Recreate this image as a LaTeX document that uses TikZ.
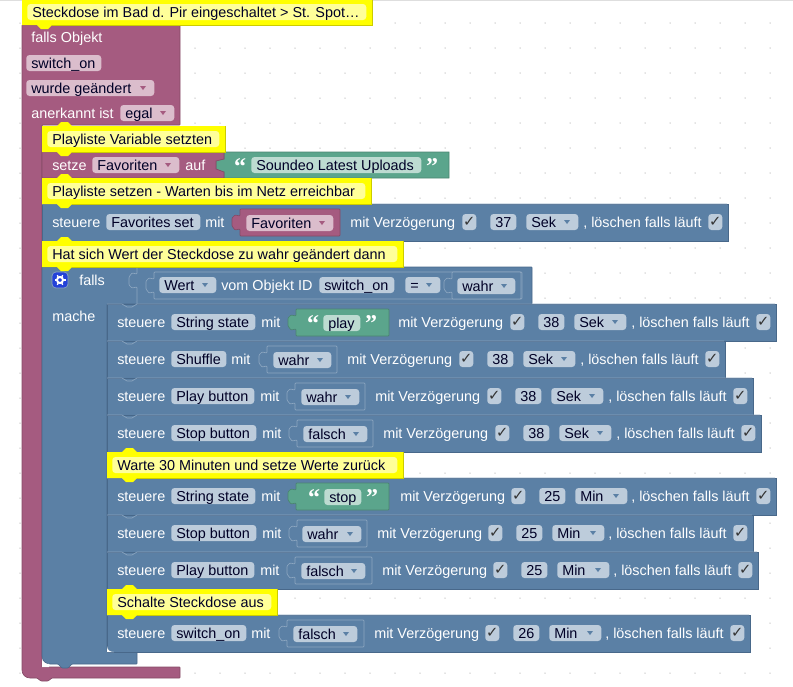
\documentclass[tikz,border=0pt]{standalone}
\usepackage{fontspec}
\setmainfont{Liberation Sans}
\newfontfamily\quotefont{Liberation Serif}
\newfontfamily\checkfont{DejaVu Sans}
\definecolor{blockblue}{HTML}{5B80A5}
\definecolor{blockred}{HTML}{A55B80}
\definecolor{blockgreen}{HTML}{5BA58C}
\definecolor{edgeblue}{HTML}{48688A}
\definecolor{edgered}{HTML}{844A66}
\definecolor{edgegreen}{HTML}{4A8570}
\definecolor{hiblue}{HTML}{8CA6C0}
\definecolor{tintblue}{HTML}{BDCCDB}
\definecolor{tintred}{HTML}{DBBDCC}
\definecolor{tintgreen}{HTML}{BDDBD1}
\definecolor{notegold}{HTML}{FFFF00}
\definecolor{notepale}{HTML}{FFFF99}
\definecolor{notedark}{HTML}{CCCC00}
\definecolor{gearblue}{HTML}{2342D8}
\tikzset{
  lbl/.style={anchor=west,inner xsep=0pt,inner ysep=.75pt,text height=9pt,text depth=1.5pt,font=\fontsize{10.8}{12}\selectfont,text=white},
  fld/.style={lbl,text=black!85!blue,inner xsep=3.75pt,rounded corners=2.4pt},
  chkbox/.style={anchor=west,inner sep=0pt,minimum width=10.5pt,minimum height=12pt,rounded corners=2.4pt,text=black!80,font=\checkfont\fontsize{11}{12}\selectfont},
  qmark/.style={anchor=base,inner sep=0pt,text=white,font=\quotefont\bfseries\fontsize{18}{18}\selectfont},
  hiline/.style={draw=hiblue,line width=.5pt}
}
\newcommand{\rowgap}{0}
% field with text, from x1 to x2
\newcommand{\fldbox}[6]{%
  \pgfmathsetmacro\fldw{((#3)-(#2)-10)*0.75}
  \node[fld,fill=#5] (#1) at ({#2},{#4}) {\makebox[\fldw pt][l]{#6}};}
% same, with the little arrow of a dropdown
\newcommand{\dropbox}[7]{%
  \fldbox{#1}{#2}{#3}{#4}{#5}{#6}
  \fill[#7] ({#3-14},{#4-2}) -- ++(6,0) -- ++(-3,4) -- cycle;}
% value block with its tab on the left
\newcommand{\valblock}[5]{%
  \draw[fill=#4,draw=#5,line width=.5pt,rounded corners=.6pt] (#1,{#3+14}) -- (#2,{#3+14}) -- (#2,{#3-13}) -- (#1,{#3-13})
    -- (#1,{#3-6}) -- ({#1-5},{#3-7}) -- ({#1-8},{#3-4}) -- ({#1-8},{#3+4}) -- ({#1-5},{#3+8}) -- (#1,{#3+7}) -- cycle;}
\newcommand{\strval}[7]{%
  \valblock{#2}{#3}{#4}{blockgreen}{edgegreen}
  \fldbox{#1}{#5}{#6}{#4+1}{tintgreen}{#7}
  \node[qmark] (#1o) at ({#5-10},{#4+9}) {“};
  \node[qmark] (#1c) at ({#6+11},{#4+9}) {”};}
% one "steuere" row: name, left, y, object, field end, mit, mit Verz., delay, unit
\newcommand{\ctrlrow}[9]{%
  \draw[fill=blockblue,draw=edgeblue,line width=.5pt] (#2,{#3-18}) rectangle ({#7+378-\rowgap},{#3+19});
  \draw[hiline] (#2,{#3-18}) -- ({#2+15},{#3-18}) -- ({#2+20},{#3-15}) -- ({#2+25},{#3-15}) -- ({#2+30},{#3-18}) -- ({#7+377-\rowgap},{#3-18});
  \node[lbl] (#1a) at ({#2+10},#3) {steuere};
  \fldbox{#1b}{#2+64}{#5}{#3}{tintblue}{#4}
  \node[lbl] (#1c) at (#6,#3) {mit};
  \node[lbl] (#1d) at ({#7+\rowgap},#3) {mit Verzögerung};
  \node[chkbox,fill=tintblue] (#1e) at ({#7+112},#3) {✓};
  \fldbox{#1f}{#7+140}{#7+166}{#3}{tintblue}{#8}
  \dropbox{#1g}{#7+176}{#7+228}{#3}{tintblue}{#9}{blockblue}
  \node[lbl] (#1h) at ({#7+233-\rowgap},#3) {, löschen falls läuft};
  \node[chkbox,fill=tintblue] (#1i) at ({#7+358-\rowgap},#3) {✓};}
% comment in yellow: name, x1, x2, y, text
\newcommand{\notebox}[5]{%
  \fill[notegold] (#2,{#4-13}) -- ({#2+15},{#4-13}) -- ({#2+19},{#4-17}) -- ({#2+26},{#4-17}) -- ({#2+30},{#4-13}) -- (#3,{#4-13})
    -- (#3,{#4+13}) -- ({#2+30},{#4+13}) -- ({#2+26},{#4+17}) -- ({#2+19},{#4+17}) -- ({#2+15},{#4+13}) -- (#2,{#4+13}) -- cycle;
  \draw[notedark,line width=.5pt] (#3,{#4-13}) -- (#3,{#4+13}) -- ({#2+30},{#4+13});
  \fldbox{#1}{#2+5}{#3-6}{#4}{notepale}{#5}}
\begin{document}
\begin{tikzpicture}[x=0.75pt,y=-0.75pt]
    \useasboundingbox (0,0) rectangle (793,686);
    \draw[black!13,line width=.75pt] (0,0.5) -- (793,0.5);
    \foreach \i in {0,...,30}
      \foreach \j in {0,...,26}
        \fill[black!22] ({20+25*\i},{23+25*\j}) circle (.75);
    % outer block
    \draw[fill=blockred,draw=edgered,line width=.5pt,rounded corners=.5pt] (22,25) -- (180,25) -- (180,125) -- (42,125) -- (42,667) -- (180,667) -- (180,678)
      -- (52,678) -- (48,681) -- (41,681) -- (37,678) -- (32,678) [rounded corners=6pt] -- (22,678) [rounded corners=.5pt] -- cycle;
    \node[lbl] (trigger) at (31,37) {falls Objekt};
    \fldbox{objid}{26}{101}{63}{tintred}{switch\_on}
    \dropbox{change}{26}{154}{88}{tintred}{wurde geändert}{blockred}
    \node[lbl] (ack) at (31,113) {anerkannt ist};
    \dropbox{ackval}{120}{174}{113}{tintred}{egal}{blockred}
    % setze
    \draw[fill=blockgreen,draw=edgegreen,line width=.5pt] (224,152) -- (449,152) -- (449,178) -- (224,178) -- (224,172) -- (219,173) -- (216,169) -- (216,161) -- (219,158) -- (224,159) -- cycle;
    \draw[fill=blockred,draw=edgered,line width=.5pt] (42,152) -- (224,152) -- (224,159) -- (216,161) -- (216,169) -- (224,172) -- (224,178) -- (42,178) -- cycle;
    \node[lbl] (setze) at (52,165) {setze};
    \dropbox{setvar}{92}{179}{165}{tintred}{Favoriten}{blockred}
    \node[lbl] (auf) at (185,165) {auf};
    \fldbox{soundeo}{251}{421}{165}{tintgreen}{Soundeo Latest Uploads}
    \node[qmark] (soundeoo) at (240,174) {“};
    \node[qmark] (soundeoc) at (432,174) {”};
    % first steuere
    \ctrlrow{favset}{42}{222}{Favorites set}{200}{205}{350}{37}{Sek}
    \valblock{240}{340}{222}{blockred}{edgered}
    \dropbox{favval}{246}{333}{223}{tintred}{Favoriten}{blockred}
    % falls block
    \draw[fill=blockblue,draw=edgeblue,line width=.5pt,rounded corners=.5pt] (42,267) -- (532,267) -- (532,304) -- (107,304) -- (107,652) -- (137,652) -- (137,664)
      -- (72,664) -- (68,668) -- (62,668) -- (58,664) [rounded corners=6pt] -- (42,664) [rounded corners=.5pt] -- cycle;
    \fill[white] (42,664) -- (42,658) .. controls (42,662) and (45,664) .. (49,664) -- (49,667) -- (42,667) -- cycle;
    \draw[rounded corners=3pt,fill=gearblue,draw=hiblue,line width=.5pt] (52,272) rectangle (68,288);
    \draw[white,line width=1.5pt] (60,280) circle (3);
    \foreach \a in {0,60,...,300}
      \draw[white,line width=1pt] (60,280) ++(\a:3.5) -- ++(\a:2);
    \node[lbl] (fallslbl) at (79,280) {falls};
    \node[lbl] (machelbl) at (52,316) {mache};
    \draw[hiline,rounded corners=.6pt] (137,267) -- (137,274) -- (132,273) -- (129,277) -- (129,285) -- (132,288) -- (137,287) -- (137,304);
    \valblock{154}{522}{285}{blockblue}{hiblue}
    \dropbox{wert}{159}{216}{285}{tintblue}{Wert}{blockblue}
    \node[lbl] (vomobj) at (221,285) {vom Objekt ID};
    \fldbox{wertid}{319}{394}{285}{tintblue}{switch\_on}
    \dropbox{equal}{405}{440}{285}{tintblue}{=}{blockblue}
    \valblock{452}{521}{285}{blockblue}{hiblue}
    \dropbox{wertval}{457}{515}{286}{tintblue}{wahr}{blockblue}
    % inner rows
    \ctrlrow{ra}{107}{322}{String state}{255}{261}{398}{38}{Sek}
    \strval{raval}{296}{389}{322}{323}{360}{play}
    \ctrlrow{rb}{107}{359}{Shuffle}{226}{231}{347}{38}{Sek}
    \valblock{267}{337}{359}{blockblue}{hiblue}
    \dropbox{rbval}{273}{331}{360}{tintblue}{wahr}{blockblue}
    \ctrlrow{rc}{107}{396}{Play button}{254}{260}{375}{38}{Sek}
    \valblock{295}{365}{396}{blockblue}{hiblue}
    \dropbox{rcval}{301}{359}{397}{tintblue}{wahr}{blockblue}
    \ctrlrow{rd}{107}{433}{Stop button}{256}{262}{383}{38}{Sek}
    \valblock{297}{373}{433}{blockblue}{hiblue}
    \dropbox{rdval}{303}{367}{434}{tintblue}{falsch}{blockblue}
    % rows with Min are 1 px shorter
    \renewcommand{\rowgap}{1}
    \ctrlrow{re}{107}{496}{String state}{255}{261}{399}{25}{Min}
    \strval{reval}{296}{389}{496}{324}{361}{stop}
    \ctrlrow{rf}{107}{533}{Stop button}{256}{262}{376}{25}{Min}
    \valblock{297}{367}{533}{blockblue}{hiblue}
    \dropbox{rfval}{302}{361}{534}{tintblue}{wahr}{blockblue}
    \ctrlrow{rg}{107}{570}{Play button}{254}{260}{381}{25}{Min}
    \valblock{295}{372}{570}{blockblue}{hiblue}
    \dropbox{rgval}{301}{365}{571}{tintblue}{falsch}{blockblue}
    \ctrlrow{rh}{107}{633}{switch\_on}{246}{251}{373}{26}{Min}
    \valblock{287}{364}{633}{blockblue}{hiblue}
    \dropbox{rhval}{293}{357}{634}{tintblue}{falsch}{blockblue}
    \fill[white] (107,652) -- (107,646) .. controls (107,650) and (110,652) .. (114,652) -- cycle;
    % comments on top
    \notebox{notea}{22}{372}{12}{Steckdose im Bad d. Pir eingeschaltet > St. Spot…}
    \notebox{noteb}{42}{225}{139}{Playliste Variable setzten}
    \notebox{notec}{42}{371}{191}{Playliste setzen - Warten bis im Netz erreichbar}
    \notebox{noted}{42}{403}{254}{Hat sich Wert der Steckdose zu wahr geändert dann}
    \notebox{notee}{107}{403}{465}{Warte 30 Minuten und setze Werte zurück}
    \notebox{notef}{107}{277}{602}{Schalte Steckdose aus}
\end{tikzpicture}
\end{document}
